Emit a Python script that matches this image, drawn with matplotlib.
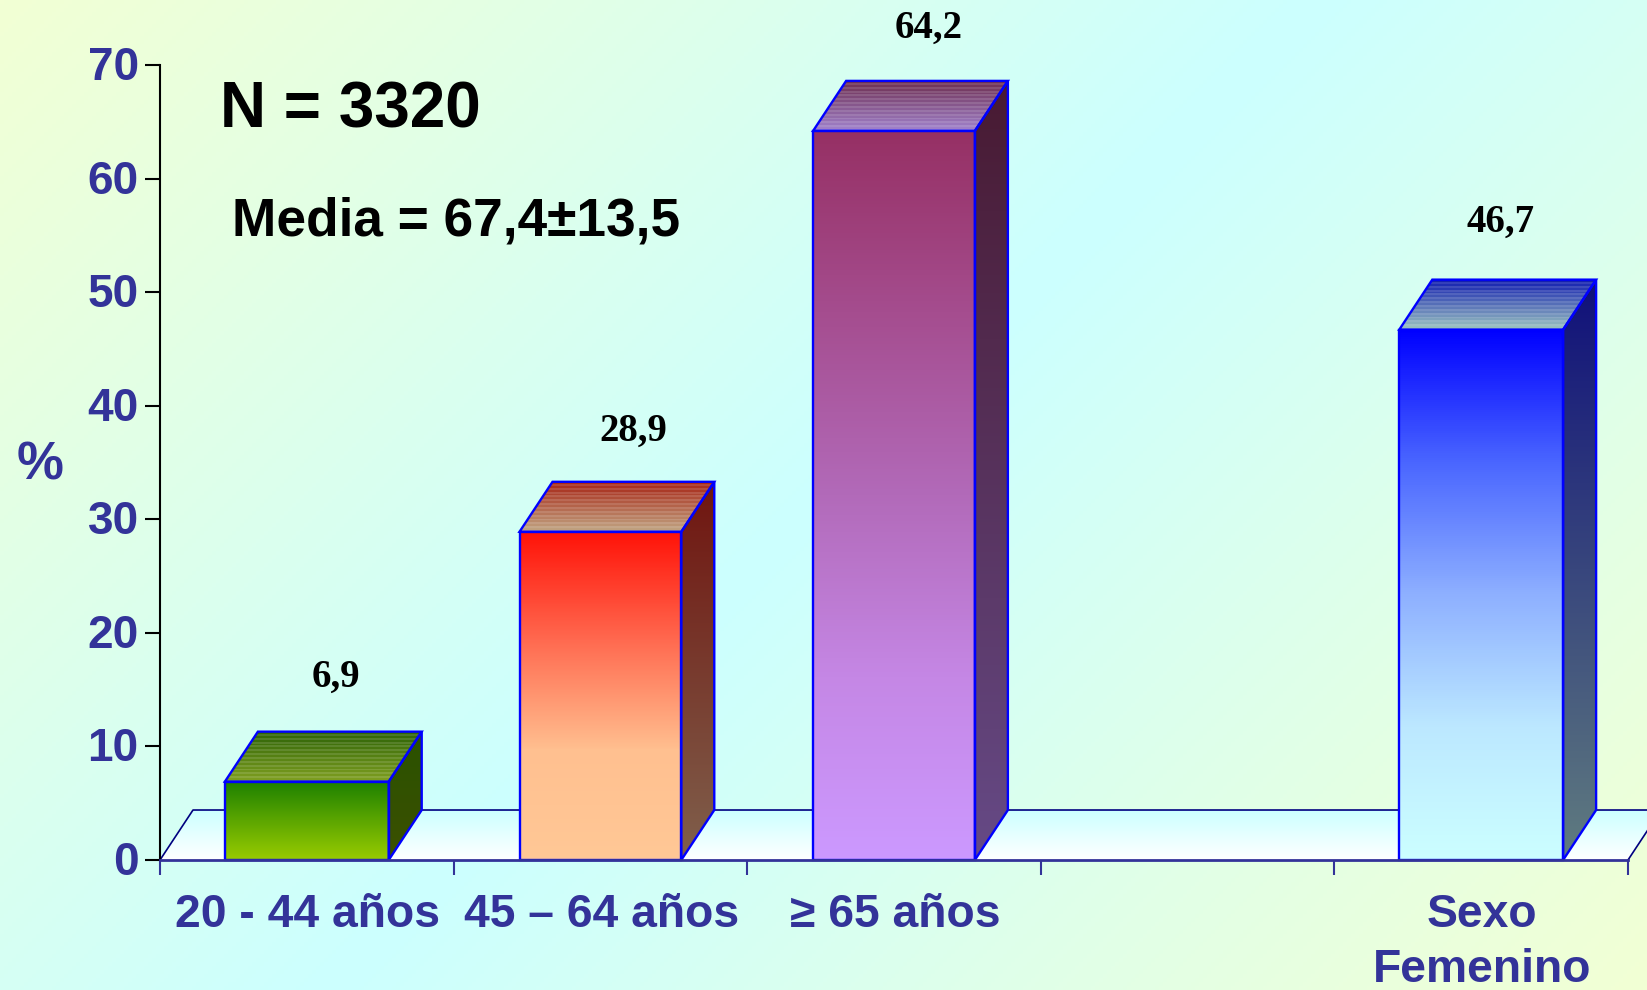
import numpy as np
import matplotlib
matplotlib.use('Agg')
import matplotlib.pyplot as plt
from matplotlib.colors import to_rgb
from matplotlib.patches import Polygon
from matplotlib.transforms import ScaledTranslation

categories = ['20 - 44 años', '45 – 64 años', '≥ 65 años', '', 'Sexo\nFemenino']
values = [6.9, 28.9, 64.2, None, 46.7]
value_labels = ['6,9', '28,9', '64,2', '', '46,7']
y_ticks = [0, 10, 20, 30, 40, 50, 60, 70]

front_colors = [['#1c8000', '#5ca600', '#99cc00'], ['#ff1208', '#ff6a50', '#ffc090', '#ffc896'],
                ['#963064', '#a54d8f', '#b26ab9', '#c587e5', '#cc99ff'], None,
                ['#0000ff', '#4a66ff', '#8eb0ff', '#bce8ff', '#ccffff']]
side_colors = [['#2a5200', '#3c5000'], ['#701510', '#80604c'],
               ['#481a32', '#664a86'], None, ['#10107a', '#607c80']]
top_colors = [['#2f6408', '#7f9f20'], ['#a82818', '#c0a482'],
              ['#6e3052', '#a082cc'], None, ['#1420b0', '#9cc4c0']]
bar_widths = [0.558, 0.551, 0.551, 0, 0.558]
label_shift = [29, 33, 35, 0, 19]
label_rise = [104, 100, 103, 0, 107]

NAVY = '#333399'
BLUE = '#0000ff'
W, H = 1647, 990
DX = 33 / 293.6
DY = 50 / 11.36


def face(ax, verts, colors, zorder, stripes=False):
    # vertical gradient clipped to a polygon
    verts = np.array(verts)
    n = 26 if stripes else 256
    stops = np.linspace(0, 1, len(colors))
    rgb = np.array([to_rgb(c) for c in colors])
    t = np.linspace(0, 1, n)
    img = np.stack([np.interp(t, stops, rgb[:, k]) for k in range(3)], axis=1)
    if stripes:
        img[1::2] = img[1::2] * 0.88 + 0.12
    img = img.reshape(n, 1, 3)
    poly = Polygon(verts, closed=True, fc='none', ec='none', zorder=zorder)
    ax.add_patch(poly)
    im = ax.imshow(img, aspect='auto', origin='upper', zorder=zorder, interpolation='nearest',
                   extent=(verts[:, 0].min(), verts[:, 0].max(), verts[:, 1].min(), verts[:, 1].max()))
    im.set_clip_path(poly)
    im.set_clip_box(ax.figure.bbox)
    return im


fig = plt.figure(figsize=(W / 100, H / 100), dpi=100)
plt.rcParams['font.family'] = ['Liberation Sans', 'DejaVu Sans']

# background runs from pale yellow corners to a cyan band, at 45 degrees in pixels
bg = fig.add_axes([0, 0, 1, 1])
bg.axis('off')
xx, yy = np.meshgrid(np.linspace(0, W, 412), np.linspace(0, H, 248))
tt = (np.abs(xx + yy - (W + H) / 2) / ((W + H) / 2))[..., None]
yellow = np.array(to_rgb('#f2ffd4'))
cyan = np.array(to_rgb('#ccffff'))
bg.imshow(cyan + (yellow - cyan) * tt, aspect='auto', extent=(0, 1, 1, 0))

ax = fig.add_axes([160 / W, 1 - 860 / H, 1468 / W, 795 / H])
ax.patch.set_alpha(0)

# floor of the 3d box
floor = [(0, 0), (DX, DY), (5 + DX, DY), (5, 0)]
face(ax, floor, ['#ccffff', '#ffffff'], 1)
ax.plot([0, DX, 5 + DX], [0, DY, DY], color='#000080', lw=1.2, clip_on=False, zorder=1.5)
ax.plot([5, 5 + DX], [0, DY], color='#000080', lw=1.2, clip_on=False, zorder=1.5)

for i, val in enumerate(values):
    if val is None:
        continue
    l = i + 0.5 - bar_widths[i] / 2
    r = i + 0.5 + bar_widths[i] / 2
    z = 3 + i
    front = [(l, 0), (l, val), (r, val), (r, 0)]
    side = [(r, 0), (r, val), (r + DX, val + DY), (r + DX, DY)]
    top = [(l, val), (l + DX, val + DY), (r + DX, val + DY), (r, val)]
    face(ax, front, front_colors[i], z)
    face(ax, side, side_colors[i], z)
    face(ax, top, top_colors[i], z, stripes=True)
    for verts in (front, side, top):
        ax.add_patch(Polygon(verts, closed=True, fc='none', ec=BLUE, lw=1.7, zorder=z + 0.5, clip_on=False))
    ax.annotate(value_labels[i], xy=(i + 0.5, val), xytext=(label_shift[i] * 0.72, label_rise[i] * 0.72),
                textcoords='offset points', ha='center', va='center', fontsize=28, fontweight='bold',
                family=['Liberation Serif'], color='black', zorder=20, annotation_clip=False)

ax.set_xlim(0, 5)
ax.set_ylim(0, 70)
ax.spines['top'].set_visible(False)
ax.spines['right'].set_visible(False)
ax.spines['left'].set_color('black')
ax.spines['left'].set_linewidth(1.5)
ax.spines['bottom'].set_color(NAVY)
ax.spines['bottom'].set_linewidth(2)
ax.spines['bottom'].set_zorder(20)

ax.set_yticks(y_ticks)
ax.tick_params(axis='y', length=10.8, width=1.5, color='black', labelcolor=NAVY, labelsize=33, pad=4.5)
ax.set_xticks(range(6))
ax.set_xticklabels([])
ax.tick_params(axis='x', which='major', length=10.8, width=1.5, color=NAVY)
ax.set_xticks(np.arange(5) + 0.503, minor=True)
ax.set_xticklabels(categories, minor=True, linespacing=1.3)
ax.tick_params(axis='x', which='minor', length=0, pad=24, labelcolor=NAVY, labelsize=33.3)
up = ScaledTranslation(0, 2 / 72 * 0.72 * 1.0, fig.dpi_scale_trans)
for lab in ax.get_yticklabels():
    lab.set_fontweight('bold')
    lab.set_verticalalignment('center_baseline')
    lab.set_transform(lab.get_transform() + up)
for lab in ax.get_xticklabels(minor=True):
    lab.set_fontweight('bold')

ax.set_ylabel('%', rotation=0, fontsize=38, fontweight='bold', color=NAVY, va='center', ha='center')
ax.yaxis.set_label_coords(-120 / 1468, (860 - 465) / 795)

fig.text(350 / W, 1 - 110 / H, 'N = 3320', fontsize=46, fontweight='bold', color='black', ha='center', va='center')
fig.text(456 / W, 1 - 222 / H, 'Media = 67,4±13,5', fontsize=38.3, fontweight='bold', color='black', ha='center', va='center')

fig.savefig('out.png', dpi=100)
